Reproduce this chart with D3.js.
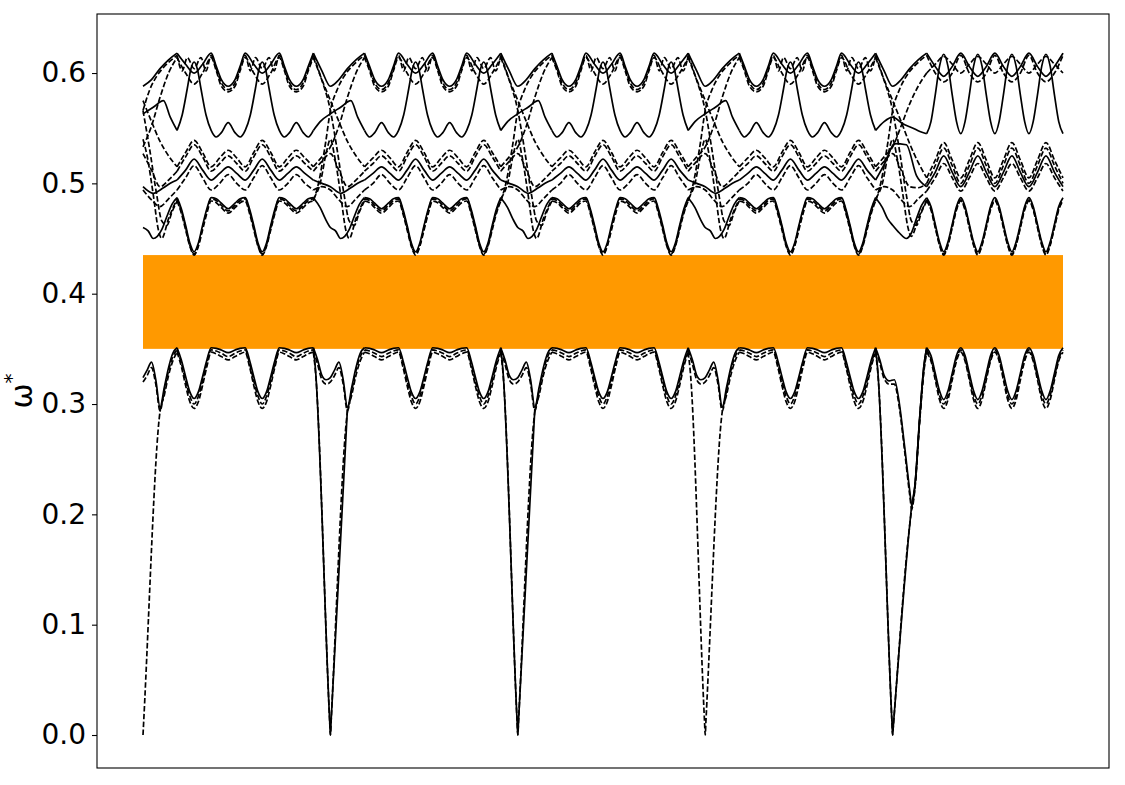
<!DOCTYPE html>
<html>
<head>
<meta charset="utf-8">
<script src="https://cdn.jsdelivr.net/npm/d3@7"></script>
<style>
  body { margin: 0; background: #fff; }
  svg text { font-family: "DejaVu Sans", sans-serif; }
</style>
</head>
<body>
<div id="chart"></div>
<script>
'use strict';

// Path coordinate q: one unit = half a period of the lower band.
// Four long legs of 5.5 units, then a shorter last leg (22 -> 27).
const segStarts = [0, 5.5, 11, 16.5, 22];
const pathEnd = 27;

// Unit sequence inside each leg (from local q 1 to local q 5)
// H = double hump, V = sharp valley, S = plain sine cell
const segUnits = [
    ["V", "H", "V", "H"],
    ["H", "V", "H", "V"],
    ["H", "V", "H", "V"],
    ["H", "V", "H", "V"],
    ["S", "S", "S", "S"]
];

const yTicks = [0, 0.1, 0.2, 0.3, 0.4, 0.5, 0.6];
const gapBand = [0.35, 0.435];

const bandNames = ["A1", "A2", "A3", "B1", "B2", "B3", "C4", "C1", "C3", "C2", "D", "E3", "E2", "E1"];
const solidBands = ["A1", "B1", "C1", "D", "E1"];

// [fraction of unit, omega*]
const humpUnit = {
    A1: [[0, 0.351], [0.15, 0.3505], [0.3, 0.349], [0.5, 0.3465], [0.7, 0.349], [0.85, 0.3505]],
    A2: [[0, 0.349], [0.15, 0.348], [0.3, 0.346], [0.5, 0.343], [0.7, 0.346], [0.85, 0.348]],
    A3: [[0, 0.347], [0.15, 0.3455], [0.3, 0.343], [0.5, 0.340], [0.7, 0.343], [0.85, 0.3455]],
    B1: [[0, 0.487], [0.15, 0.486], [0.3, 0.482], [0.5, 0.477], [0.7, 0.482], [0.85, 0.486]],
    B2: [[0, 0.486], [0.15, 0.4845], [0.3, 0.480], [0.5, 0.475], [0.7, 0.480], [0.85, 0.4845]],
    B3: [[0, 0.484], [0.15, 0.4825], [0.3, 0.478], [0.5, 0.473], [0.7, 0.478], [0.85, 0.4825]],
    C4: [[0, 0.494], [0.25, 0.500], [0.5, 0.508], [0.75, 0.500]],
    C1: [[0, 0.503], [0.25, 0.509], [0.5, 0.515], [0.75, 0.509]],
    C3: [[0, 0.511], [0.25, 0.518], [0.5, 0.525], [0.75, 0.518]],
    C2: [[0, 0.515], [0.25, 0.523], [0.5, 0.530], [0.75, 0.523]],
    D:  [[0, 0.548], [0.15, 0.542], [0.3, 0.546], [0.5, 0.555], [0.7, 0.546], [0.85, 0.542]],
    E3: [[0, 0.614], [0.15, 0.602], [0.3, 0.588], [0.5, 0.583], [0.7, 0.588], [0.85, 0.602]],
    E2: [[0, 0.616], [0.15, 0.604], [0.3, 0.591], [0.5, 0.585], [0.7, 0.591], [0.85, 0.604]],
    E1: [[0, 0.618], [0.15, 0.606], [0.3, 0.594], [0.5, 0.588], [0.7, 0.594], [0.85, 0.606]]
};

const valleyUnit = {
    A1: [[0, 0.351], [0.125, 0.340], [0.25, 0.325], [0.375, 0.311], [0.5, 0.305], [0.625, 0.311], [0.75, 0.325], [0.875, 0.340]],
    A2: [[0, 0.349], [0.125, 0.337], [0.25, 0.321], [0.375, 0.307], [0.5, 0.300], [0.625, 0.307], [0.75, 0.321], [0.875, 0.337]],
    A3: [[0, 0.347], [0.125, 0.334], [0.25, 0.317], [0.375, 0.302], [0.5, 0.296], [0.625, 0.302], [0.75, 0.317], [0.875, 0.334]],
    B1: [[0, 0.487], [0.125, 0.477], [0.25, 0.462], [0.375, 0.446], [0.5, 0.438], [0.625, 0.446], [0.75, 0.462], [0.875, 0.477]],
    B2: [[0, 0.486], [0.125, 0.475], [0.25, 0.460], [0.375, 0.444], [0.5, 0.436], [0.625, 0.444], [0.75, 0.460], [0.875, 0.475]],
    B3: [[0, 0.484], [0.125, 0.473], [0.25, 0.458], [0.375, 0.443], [0.5, 0.435], [0.625, 0.443], [0.75, 0.458], [0.875, 0.473]],
    C4: [[0, 0.494], [0.25, 0.505], [0.5, 0.516], [0.75, 0.505]],
    C1: [[0, 0.503], [0.25, 0.512], [0.5, 0.522], [0.75, 0.512]],
    C3: [[0, 0.511], [0.25, 0.524], [0.5, 0.535], [0.75, 0.524]],
    C2: [[0, 0.515], [0.25, 0.528], [0.5, 0.539], [0.75, 0.528]],
    D:  [[0, 0.548], [0.15, 0.562], [0.3, 0.586], [0.4, 0.603], [0.5, 0.610], [0.6, 0.603], [0.7, 0.586], [0.85, 0.562]],
    E3: [[0, 0.614], [0.25, 0.600], [0.5, 0.590], [0.75, 0.600]],
    E2: [[0, 0.616], [0.15, 0.602], [0.3, 0.614], [0.5, 0.604], [0.7, 0.614], [0.85, 0.602]],
    E1: [[0, 0.618], [0.25, 0.608], [0.5, 0.600], [0.75, 0.608]]
};

const sineUnit = {
    A1: [[0, 0.351], [0.125, 0.344], [0.25, 0.328], [0.375, 0.312], [0.5, 0.304], [0.625, 0.312], [0.75, 0.328], [0.875, 0.344]],
    A2: [[0, 0.349], [0.125, 0.341], [0.25, 0.325], [0.375, 0.308], [0.5, 0.300], [0.625, 0.308], [0.75, 0.325], [0.875, 0.341]],
    A3: [[0, 0.347], [0.125, 0.339], [0.25, 0.322], [0.375, 0.304], [0.5, 0.296], [0.625, 0.304], [0.75, 0.322], [0.875, 0.339]],
    B1: [[0, 0.487], [0.125, 0.479], [0.25, 0.463], [0.375, 0.447], [0.5, 0.438], [0.625, 0.447], [0.75, 0.463], [0.875, 0.479]],
    B2: [[0, 0.485], [0.125, 0.477], [0.25, 0.461], [0.375, 0.445], [0.5, 0.436], [0.625, 0.445], [0.75, 0.461], [0.875, 0.477]],
    B3: [[0, 0.484], [0.125, 0.476], [0.25, 0.460], [0.375, 0.444], [0.5, 0.435], [0.625, 0.444], [0.75, 0.460], [0.875, 0.476]],
    C4: [[0, 0.493], [0.25, 0.505], [0.5, 0.518], [0.75, 0.505]],
    C1: [[0, 0.497], [0.25, 0.510], [0.5, 0.525], [0.75, 0.510]],
    C3: [[0, 0.500], [0.25, 0.516], [0.5, 0.532], [0.75, 0.516]],
    C2: [[0, 0.505], [0.25, 0.521], [0.5, 0.537], [0.75, 0.521]],
    D:  [[0, 0.545], [0.125, 0.556], [0.25, 0.580], [0.375, 0.606], [0.5, 0.617], [0.625, 0.606], [0.75, 0.580], [0.875, 0.556]],
    E3: [[0, 0.600], [0.25, 0.608], [0.5, 0.615], [0.75, 0.608]],
    E2: [[0, 0.616], [0.25, 0.600], [0.5, 0.592], [0.75, 0.600]],
    E1: [[0, 0.618], [0.25, 0.606], [0.5, 0.597], [0.75, 0.606]]
};

// Curves across a leg boundary: [q after the last peak, omega*]; boundary at 0.5, next peak at 1.5
const boundaryLinks = {
    A1: [[0, 0.351], [0.125, 0.340], [0.25, 0.326], [0.375, 0.322], [0.5, 0.324], [0.625, 0.331], [0.75, 0.338], [0.875, 0.322], [1.0, 0.297], [1.125, 0.315], [1.25, 0.333], [1.375, 0.346], [1.5, 0.351]],
    A2: [[0, 0.349], [0.125, 0.336], [0.25, 0.322], [0.375, 0.318], [0.5, 0.320], [0.625, 0.326], [0.75, 0.333], [0.875, 0.318], [1.0, 0.294], [1.125, 0.312], [1.25, 0.330], [1.375, 0.343], [1.5, 0.349]],
    A3: [[0, 0.347], [0.06, 0.330], [0.48, 0.012], [0.5, 0], [0.52, 0.012], [1.0, 0.293], [1.125, 0.308], [1.25, 0.326], [1.375, 0.339], [1.5, 0.347]],
    B1: [[0, 0.487], [0.2, 0.478], [0.35, 0.468], [0.5, 0.460], [0.65, 0.457], [0.8, 0.450], [0.92, 0.452], [1.05, 0.458], [1.2, 0.470], [1.35, 0.481], [1.5, 0.487]],
    B2: [[0, 0.486], [0.2, 0.500], [0.38, 0.528], [0.5, 0.540], [0.62, 0.525], [0.8, 0.490], [0.95, 0.458], [1.05, 0.450], [1.25, 0.468], [1.5, 0.486]],
    B3: [[0, 0.484], [0.15, 0.500], [0.35, 0.535], [0.5, 0.566], [0.7, 0.585], [0.9, 0.597], [1.1, 0.605], [1.3, 0.611], [1.5, 0.616]],
    C4: [[0, 0.494], [0.25, 0.497], [0.5, 0.494], [0.75, 0.485], [1.0, 0.479], [1.25, 0.486], [1.5, 0.494]],
    C1: [[0, 0.503], [0.25, 0.500], [0.5, 0.497], [0.8, 0.491], [1.1, 0.496], [1.3, 0.500], [1.5, 0.503]],
    C3: [[0, 0.511], [0.25, 0.520], [0.5, 0.527], [0.75, 0.512], [1.0, 0.497], [1.25, 0.503], [1.5, 0.511]],
    C2: [[0, 0.515], [0.25, 0.524], [0.5, 0.533], [0.75, 0.552], [1.0, 0.578], [1.25, 0.600], [1.5, 0.614]],
    D:  [[0, 0.548], [0.2, 0.556], [0.5, 0.563], [0.8, 0.569], [1.1, 0.575], [1.3, 0.560], [1.5, 0.548]],
    E3: [[0, 0.614], [0.25, 0.594], [0.5, 0.575], [0.75, 0.556], [1.0, 0.538], [1.25, 0.525], [1.5, 0.515]],
    E2: [[0, 0.616], [0.2, 0.598], [0.5, 0.566], [0.7, 0.530], [0.9, 0.490], [1.05, 0.466], [1.2, 0.462], [1.35, 0.474], [1.5, 0.484]],
    E1: [[0, 0.618], [0.25, 0.602], [0.5, 0.588], [0.75, 0.594], [1.0, 0.604], [1.25, 0.612], [1.5, 0.618]]
};

const lastBoundaryLinks = {
    A1: [[0, 0.351], [0.125, 0.340], [0.25, 0.326], [0.4, 0.321], [0.55, 0.322], [0.7, 0.300], [0.85, 0.262], [1.0, 0.222], [1.06, 0.208], [1.15, 0.225], [1.3, 0.290], [1.42, 0.335], [1.5, 0.351]],
    A2: [[0, 0.349], [0.125, 0.337], [0.25, 0.323], [0.4, 0.318], [0.55, 0.318], [0.7, 0.296], [0.85, 0.258], [1.0, 0.218], [1.06, 0.205], [1.15, 0.222], [1.3, 0.287], [1.42, 0.332], [1.5, 0.349]],
    A3: [[0, 0.347], [0.06, 0.330], [0.48, 0.012], [0.5, 0], [0.52, 0.008], [1.0, 0.190], [1.06, 0.205], [1.15, 0.223], [1.3, 0.288], [1.42, 0.330], [1.5, 0.347]],
    B1: [[0, 0.487], [0.2, 0.478], [0.35, 0.468], [0.5, 0.462], [0.7, 0.455], [0.9, 0.450], [1.05, 0.455], [1.2, 0.468], [1.35, 0.480], [1.5, 0.487]],
    B2: [[0, 0.486], [0.2, 0.500], [0.38, 0.528], [0.5, 0.540], [0.62, 0.525], [0.8, 0.490], [0.95, 0.460], [1.05, 0.452], [1.25, 0.468], [1.5, 0.485]],
    B3: [[0, 0.484], [0.15, 0.500], [0.35, 0.535], [0.5, 0.566], [0.7, 0.585], [0.9, 0.597], [1.1, 0.605], [1.3, 0.611], [1.5, 0.616]],
    C4: [[0, 0.494], [0.25, 0.497], [0.5, 0.494], [0.75, 0.485], [1.0, 0.479], [1.25, 0.486], [1.5, 0.493]],
    C1: [[0, 0.503], [0.3, 0.520], [0.55, 0.536], [0.9, 0.535], [1.2, 0.507], [1.5, 0.497]],
    C3: [[0, 0.511], [0.25, 0.520], [0.5, 0.527], [0.75, 0.512], [1.0, 0.497], [1.25, 0.496], [1.5, 0.500]],
    C2: [[0, 0.515], [0.25, 0.524], [0.5, 0.533], [0.75, 0.552], [1.0, 0.572], [1.25, 0.588], [1.5, 0.600]],
    D:  [[0, 0.548], [0.25, 0.556], [0.5, 0.560], [0.8, 0.554], [1.1, 0.550], [1.3, 0.547], [1.5, 0.545]],
    E3: [[0, 0.614], [0.25, 0.594], [0.5, 0.575], [0.75, 0.556], [1.0, 0.536], [1.25, 0.519], [1.5, 0.505]],
    E2: [[0, 0.616], [0.2, 0.598], [0.5, 0.566], [0.7, 0.530], [0.9, 0.490], [1.05, 0.466], [1.2, 0.462], [1.35, 0.474], [1.5, 0.484]],
    E1: [[0, 0.618], [0.25, 0.602], [0.5, 0.588], [0.75, 0.594], [1.0, 0.604], [1.25, 0.612], [1.5, 0.618]]
};

// Solid branch falling to zero at some boundaries: [q relative to boundary, omega*]
const solidDipAt = [5.5, 11];
const solidDip = [[-0.5, 0.351], [-0.44, 0.332], [-0.02, 0.012], [0, 0], [0.02, 0.012], [0.5, 0.296]];
const lastDipAt = 22;
const lastDip = [[-0.5, 0.351], [-0.44, 0.332], [-0.02, 0.012], [0, 0], [0.02, 0.008], [0.5, 0.190], [0.56, 0.208], [0.65, 0.225], [0.8, 0.290], [0.92, 0.335], [1.0, 0.351]];

// ---------------------------------------------------------------

const width = 1125, height = 785;
const frame = { left: 97, top: 14, right: 1109, bottom: 768 };

const svg = d3.select("#chart").append("svg")
    .attr("width", width)
    .attr("height", height);

const x = d3.scaleLinear()
    .domain([-1.35, 28.35])
    .range([frame.left, frame.right]);

const y = d3.scaleLinear()
    .domain([-0.0299, 0.6535])
    .range([frame.bottom, frame.top]);

const units = { H: humpUnit, V: valleyUnit, S: sineUnit };

function interior(band, s) {
    const pts = [];
    segUnits[s].forEach((u, i) => {
        const q0 = segStarts[s] + 1 + i;
        units[u][band].forEach(([f, v]) => pts.push([q0 + f, v]));
    });
    const last = segUnits[s][segUnits[s].length - 1];
    pts.push([segStarts[s] + 5, units[last][band][0][1]]);
    return pts;
}

function link(pts, b, clipStart) {
    return pts
        .filter(p => !clipStart || p[0] >= 0.5)
        .map(([dq, v]) => [b - 0.5 + dq, v]);
}

const pieces = [];
bandNames.forEach(band => {
    const solid = solidBands.includes(band);
    pieces.push({ solid, pts: link(boundaryLinks[band], 0, true) });
    segStarts.forEach((b, s) => {
        pieces.push({ solid, pts: interior(band, s) });
        if (s === 0) return;
        const table = s === segStarts.length - 1 ? lastBoundaryLinks : boundaryLinks;
        pieces.push({ solid, pts: link(table[band], b, false) });
    });
});
solidDipAt.forEach(b => {
    pieces.push({ solid: true, pts: solidDip.map(([dq, v]) => [b + dq, v]) });
});
pieces.push({ solid: true, pts: lastDip.map(([dq, v]) => [lastDipAt + dq, v]) });

// gap band
svg.append("rect")
    .attr("x", x(0))
    .attr("width", x(pathEnd) - x(0))
    .attr("y", y(gapBand[1]))
    .attr("height", y(gapBand[0]) - y(gapBand[1]))
    .attr("fill", "#ff9900");

const line = d3.line()
    .x(d => x(d[0]))
    .y(d => y(d[1]))
    .curve(d3.curveMonotoneX);

const ordered = pieces.filter(p => p.solid).concat(pieces.filter(p => !p.solid));

svg.append("g")
    .selectAll("path")
    .data(ordered)
    .join("path")
    .attr("d", d => line(d.pts))
    .attr("fill", "none")
    .attr("stroke", "#000")
    .attr("stroke-width", 1.7)
    .attr("stroke-linejoin", "round")
    .attr("stroke-dasharray", d => d.solid ? null : "5.5,2.4");

// frame
svg.append("rect")
    .attr("x", frame.left)
    .attr("y", frame.top)
    .attr("width", frame.right - frame.left)
    .attr("height", frame.bottom - frame.top)
    .attr("fill", "none")
    .attr("stroke", "#000")
    .attr("stroke-width", 1.1);

const axisY = svg.append("g")
    .attr("transform", `translate(${frame.left},0)`)
    .call(d3.axisLeft(y).tickValues(yTicks).tickFormat(d3.format(".1f")).tickSize(5).tickPadding(6));

axisY.select(".domain").remove();
axisY.selectAll("line").attr("stroke", "#000").attr("stroke-width", 1.1);
axisY.selectAll("text")
    .attr("fill", "#000")
    .style("font-size", "28px")
    .style("font-family", "'DejaVu Sans', sans-serif");

const label = svg.append("text")
    .attr("transform", `translate(32,${(frame.top + frame.bottom) / 2}) rotate(-90)`)
    .attr("text-anchor", "middle")
    .style("font-size", "30px")
    .attr("fill", "#000");

label.append("tspan").text("ω");
label.append("tspan")
    .style("font-size", "20px")
    .attr("dy", -14)
    .text("*");
</script>
</body>
</html>
